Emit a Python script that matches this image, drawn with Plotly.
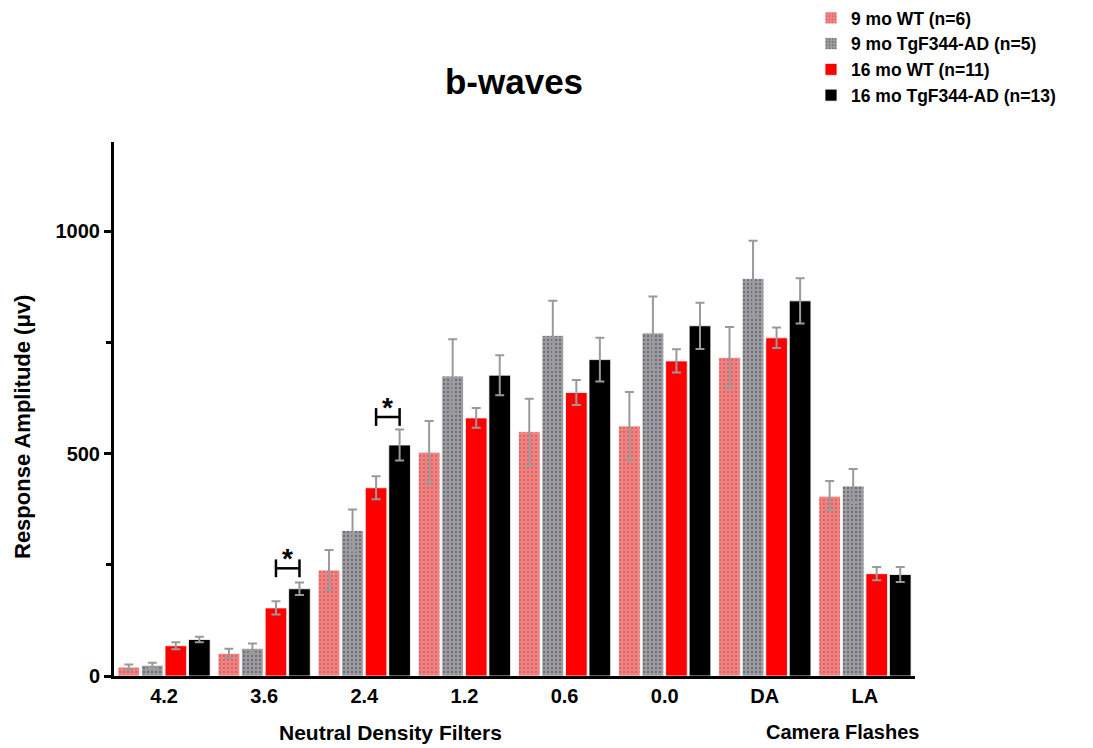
import plotly.graph_objects as go

categories = ["4.2", "3.6", "2.4", "1.2", "0.6", "0.0", "DA", "LA"]

wt9_mean = [20, 51, 238, 503, 549, 562, 716, 404]
wt9_sem = [6, 10, 45, 70, 74, 76, 68, 34]

ad9_mean = [24, 62, 327, 674, 765, 771, 893, 427]
ad9_sem = [6, 11, 47, 83, 78, 82, 85, 38]

wt16_mean = [68, 153, 423, 580, 637, 708, 760, 230]
wt16_sem = [8, 15, 26, 22, 28, 26, 23, 15]

ad16_mean = [82, 196, 519, 676, 711, 787, 843, 228]
ad16_sem = [6, 14, 35, 45, 49, 52, 51, 17]

series_names = ["9 mo WT (n=6)", "9 mo TgF344-AD (n=5)",
                "16 mo WT (n=11)", "16 mo TgF344-AD (n=13)"]

# significance brackets: (group index, bracket height in µV)
sig_marks = [(1, 242), (2, 582)]

FONT = "Liberation Sans, Arial, Helvetica, sans-serif"
ERR = "#9a9a9a"

styles = [
    dict(color="#f28282", pattern=dict(shape=".", fgcolor="#b84a4a", bgcolor="#f28282",
                                      size=4, solidity=0.25)),
    dict(color="#9c9ca2", pattern=dict(shape=".", fgcolor="#3c3c3c", bgcolor="#9c9ca2",
                                      size=4, solidity=0.25)),
    dict(color="#ff0000"),
    dict(color="#000000"),
]

fig = go.Figure()
for name, mean, sem, st in zip(series_names,
                               [wt9_mean, ad9_mean, wt16_mean, ad16_mean],
                               [wt9_sem, ad9_sem, wt16_sem, ad16_sem],
                               styles):
    marker = dict(color=st["color"], line=dict(color="white", width=0.8))
    if "pattern" in st:
        marker["pattern"] = st["pattern"]
    fig.add_trace(go.Bar(
        x=categories, y=mean, name=f"<b>{name}</b>", marker=marker,
        error_y=dict(type="data", array=sem, visible=True, color=ERR,
                     thickness=2, width=4.5),
    ))

# bar slot width in category units
slot = (1 - 0.06) / 4
for gi, h in sig_marks:
    x0 = gi + 0.5 * slot
    x1 = gi + 1.5 * slot
    fig.add_shape(type="line", xref="x", yref="y", x0=x0, x1=x1, y0=h, y1=h,
                  line=dict(color="black", width=2.5))
    for xx in (x0, x1):
        fig.add_shape(type="line", xref="x", yref="y", x0=xx, x1=xx,
                      y0=h - 20, y1=h + 20, line=dict(color="black", width=2.5))
    fig.add_annotation(x=gi + slot, y=h + 22, xref="x", yref="y", text="<b>*</b>",
                       showarrow=False, yanchor="middle", xanchor="center",
                       font=dict(family=FONT, size=28, color="black"))

fig.add_annotation(text="<b>Neutral Density Filters</b>", xref="paper", yref="paper",
                   x=(390 - 114) / 801, y=-56 / 534, xanchor="center", yanchor="middle",
                   showarrow=False, font=dict(family=FONT, size=21, color="black"))
fig.add_annotation(text="<b>Camera Flashes</b>", xref="paper", yref="paper",
                   x=(842 - 114) / 801, y=-56 / 534, xanchor="center", yanchor="middle",
                   showarrow=False, font=dict(family=FONT, size=20, color="black"))

# y-axis title
fig.add_annotation(text="<b>Response Amplitude (μv)</b>", xref="paper", yref="paper",
                   x=-92 / 801, y=(676 - 427) / 534, xanchor="center", yanchor="middle",
                   textangle=-90, showarrow=False,
                   font=dict(family=FONT, size=22, color="black"))

fig.update_layout(
    width=1093, height=748,
    margin=dict(l=114, r=178, t=142, b=72, autoexpand=False),
    paper_bgcolor="white", plot_bgcolor="white",
    barmode="group", bargap=0.06, bargroupgap=0.08,
    title=dict(text="<b>b-waves</b>", x=514 / 1093, xanchor="center",
               y=1 - 82 / 748, yanchor="middle",
               font=dict(family=FONT, size=35, color="black")),
    font=dict(family=FONT, color="black"),
    showlegend=True,
    legend=dict(xref="container", yref="container", x=0.742, y=1.004,
                xanchor="left", yanchor="top",
                font=dict(family=FONT, size=17.5, color="black"),
                itemwidth=30, tracegroupgap=0, bgcolor="rgba(0,0,0,0)"),
    xaxis=dict(showline=True, linecolor="black", linewidth=3, ticks="",
               tickfont=dict(family=FONT, size=20, color="black"),
               showgrid=False, zeroline=False),
    yaxis=dict(range=[0, 1200], tickvals=[0, 500, 1000],
               ticktext=["<b>0</b>", "<b>500</b>", "<b>1000</b>"],
               showline=True, linecolor="black", linewidth=3,
               ticks="outside", ticklen=7, tickwidth=2.5, tickcolor="black",
               minor=dict(tickvals=[250, 750], ticks="outside", ticklen=5,
                          tickwidth=2.5, tickcolor="black"),
               tickfont=dict(family=FONT, size=20, color="black"),
               showgrid=False, zeroline=False),
)
fig.update_xaxes(tickvals=categories, ticktext=[f"<b>{c}</b>" for c in categories])

fig.write_html("out.html")
